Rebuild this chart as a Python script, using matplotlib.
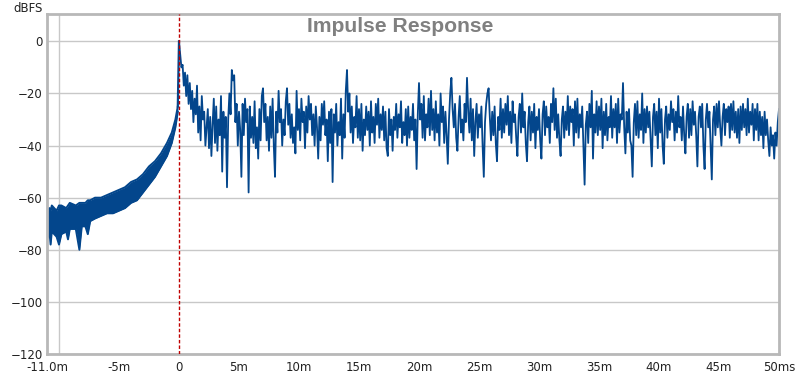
import matplotlib
matplotlib.use("Agg")
from matplotlib import pyplot as plt
import matplotlib.ticker as ticker
import numpy as np

# pre-impulse noise band (ms, upper dB, lower dB)
pre_t = [-11.0, -10.8, -10.7, -10.6, -10.2, -10.0, -9.8, -9.4, -9.25, -9.1,
         -8.6, -8.3, -8.1, -7.8, -7.6, -7.4, -7.0, -6.5, -6.0, -5.5,
         -5.0, -4.5, -4.0, -3.5, -3.0, -2.5, -2.0, -1.5, -1.0, -0.6,
         -0.3, -0.1]
pre_hi = [-65, -64, -65, -63, -65, -63, -63, -64, -63, -62,
          -63, -62, -62, -62, -61, -61, -60, -60, -59, -58,
          -57, -56, -54, -53, -51, -48, -46, -43, -39, -35,
          -30, -25]
pre_lo = [-76, -73, -78, -73, -75, -78, -74, -73, -76, -72,
          -72, -80, -71, -71, -74, -69, -68, -67, -66, -66,
          -65, -64, -62, -61, -58, -55, -52, -48, -44, -39,
          -33, -27]

# post-impulse response: 0 dB at t=0, then one value every 0.1 ms
# (each row is one millisecond)
post_db = [0,
    -5, -10, -9, -17, -12, -21, -13, -24, -16, -26,
    -19, -31, -22, -28, -17, -35, -25, -38, -21, -30,
    -27, -40, -33, -26, -41, -29, -44, -32, -22, -39,
    -25, -42, -30, -36, -21, -50, -27, -37, -29, -56,
    -30, -20, -28, -11, -15, -13, -31, -24, -40, -27,
    -34, -52, -24, -36, -22, -31, -26, -58, -25, -37,
    -29, -39, -23, -41, -33, -45, -26, -38, -21, -18,
    -31, -24, -38, -29, -42, -25, -37, -22, -40, -52,
    -27, -35, -19, -31, -26, -40, -30, -36, -23, -18,
    -32, -24, -37, -28, -39, -33, -43, -19, -34, -26,
    -38, -22, -31, -27, -41, -25, -35, -21, -30, -24,
    -36, -28, -40, -25, -33, -45, -29, -38, -24, -32,
    -23, -36, -30, -46, -27, -39, -26, -54, -28, -35,
    -24, -40, -31, -36, -22, -45, -28, -37, -19, -11,
    -27, -20, -35, -25, -39, -29, -33, -21, -37, -26,
    -38, -24, -42, -30, -36, -25, -34, -27, -40, -23,
    -35, -29, -39, -24, -32, -22, -37, -28, -34, -25,
    -38, -27, -41, -44, -26, -36, -30, -42, -29, -34,
    -24, -37, -28, -33, -23, -39, -31, -36, -26, -40,
    -25, -37, -29, -34, -24, -38, -30, -49, -28, -16,
    -30, -24, -37, -21, -38, -28, -33, -22, -36, -19,
    -34, -26, -38, -23, -35, -28, -40, -20, -31, -25,
    -39, -27, -36, -47, -30, -20, -14, -26, -33, -24,
    -37, -42, -29, -21, -35, -30, -38, -24, -31, -14,
    -27, -35, -22, -38, -26, -44, -31, -24, -37, -28,
    -33, -25, -40, -52, -31, -24, -20, -18, -29, -38,
    -27, -36, -25, -39, -46, -29, -34, -22, -37, -26,
    -35, -24, -32, -21, -36, -27, -39, -23, -31, -28,
    -37, -44, -29, -24, -35, -20, -33, -27, -39, -46,
    -31, -25, -38, -27, -35, -24, -41, -29, -34, -26,
    -38, -45, -28, -23, -36, -25, -33, -29, -39, -24,
    -31, -18, -34, -22, -37, -28, -38, -44, -30, -25,
    -37, -27, -34, -21, -36, -25, -31, -26, -40, -23,
    -35, -22, -37, -28, -33, -25, -40, -55, -32, -27,
    -39, -24, -33, -19, -45, -28, -35, -23, -36, -25,
    -34, -22, -41, -27, -36, -24, -38, -29, -33, -21,
    -37, -26, -33, -24, -39, -22, -35, -28, -30, -16,
    -33, -43, -27, -35, -26, -38, -40, -52, -31, -24,
    -36, -23, -37, -28, -34, -20, -39, -26, -35, -25,
    -33, -27, -38, -48, -29, -24, -36, -27, -41, -22,
    -35, -26, -40, -47, -30, -25, -37, -28, -34, -23,
    -31, -26, -38, -27, -35, -21, -33, -29, -38, -25,
    -36, -43, -29, -24, -37, -26, -36, -23, -32, -27,
    -36, -48, -29, -25, -33, -24, -40, -49, -30, -24,
    -33, -27, -40, -53, -30, -25, -36, -24, -33, -23,
    -33, -40, -29, -24, -36, -26, -31, -25, -37, -24,
    -34, -23, -35, -27, -37, -26, -39, -25, -34, -24,
    -33, -26, -36, -22, -35, -27, -32, -24, -38, -26,
    -34, -24, -38, -27, -36, -29, -41, -27, -36, -30,
    -38, -44, -33, -40, -36, -45, -35, -40, -31, -26,
]
post_t = np.arange(len(post_db)) * 0.1

xtick_pos = [-11, -5, 0, 5, 10, 15, 20, 25, 30, 35, 40, 45, 50]
xtick_lab = ["-11.0m", "-5m", "0", "5m", "10m", "15m", "20m", "25m",
             "30m", "35m", "40m", "45m", "50ms"]
xgrid_pos = [-10, -5, 0, 5, 10, 15, 20, 25, 30, 35, 40, 45]
ytick_pos = [-120, -100, -80, -60, -40, -20, 0]

line_col = "#03468c"

fig = plt.figure(figsize=(8.0, 3.77), dpi=100)
ax = fig.add_axes([47 / 800, 23 / 377, 732 / 800, 340 / 377])

ax.fill_between(pre_t, pre_lo, pre_hi, color=line_col, lw=0)
ax.plot(pre_t, pre_hi, color=line_col, lw=1.4)
ax.plot(pre_t, pre_lo, color=line_col, lw=1.4)
ax.plot([pre_t[-1], 0], [pre_hi[-1], 0], color=line_col, lw=1.6)
ax.plot(post_t, post_db, color=line_col, lw=1.3)

ax.axvline(0, color="#c00000", lw=1, ls=(0, (2.5, 1.5)), zorder=3)

ax.set_xlim(-11, 50)
ax.set_ylim(-120, 10.5)

ax.xaxis.set_major_locator(ticker.FixedLocator(xtick_pos))
ax.xaxis.set_major_formatter(ticker.FixedFormatter(xtick_lab))
ax.xaxis.set_minor_locator(ticker.FixedLocator(xgrid_pos))
ax.yaxis.set_major_locator(ticker.FixedLocator(ytick_pos))
ax.grid(True, which="minor", axis="x", color="#c8c8c8", lw=1)
ax.grid(True, which="major", axis="y", color="#c8c8c8", lw=1)
ax.set_axisbelow(True)
ax.tick_params(which="both", length=0, labelsize=8.5, colors="#222222")
ax.tick_params(axis="x", pad=5)
ax.tick_params(axis="y", pad=3)

for side in ["top", "right", "bottom", "left"]:
    ax.spines[side].set_color("#b8b8b8")
    ax.spines[side].set_linewidth(2)

fig.text(400 / 800, 1 - 27 / 377, "Impulse Response",
         ha="center", va="center", fontsize=15.2, fontweight="bold",
         family=["Liberation Sans", "DejaVu Sans"], color="#808080")
fig.text(28 / 800, 1 - 9 / 377, "dBFS", ha="center", va="center",
         fontsize=8.5, color="#222222")

fig.savefig("out.png", dpi=100)
